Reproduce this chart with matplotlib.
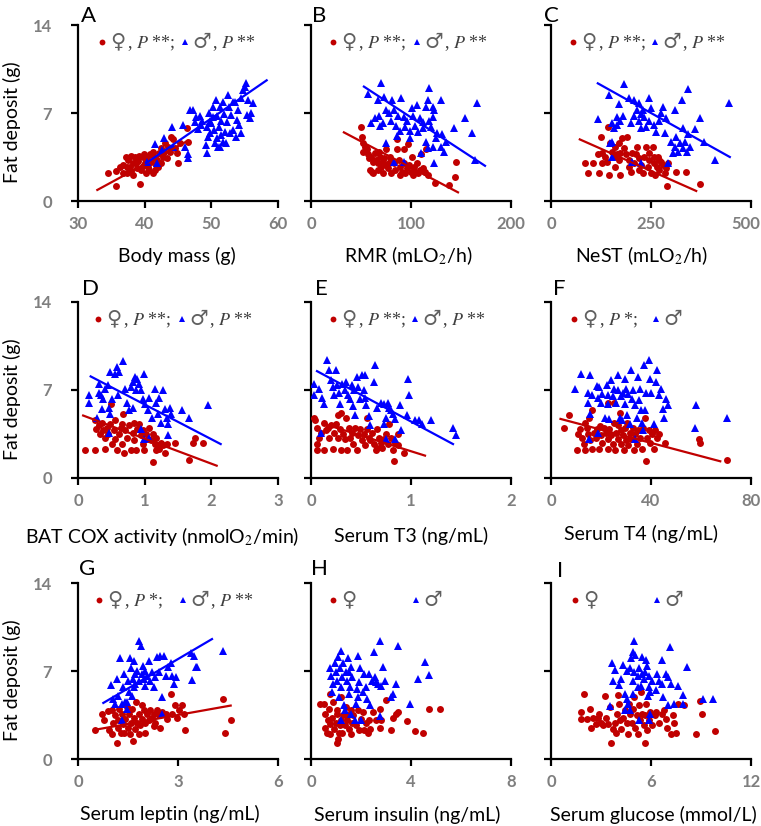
import matplotlib
matplotlib.use("Agg")
import matplotlib.pyplot as plt
from matplotlib.transforms import ScaledTranslation

plt.rcParams['font.family'] = ['Lato', 'DejaVu Sans']
plt.rcParams['mathtext.fontset'] = 'stix'

RED = '#C00000'
BLUE = '#0000FF'
GRAY = '#7F7F7F'

# ---------------- data ----------------
# Panel A: body mass (g) vs fat deposit (g)
a_f_x = [34.5,35.7,35.7,36.3,36.7,37.2,37.3,37.5,38.0,38.2,38.3,38.5,38.8,39.0,39.3,39.5,39.7,39.9,40.0,40.2,40.3,40.5,40.8,41.0,41.3,41.4,41.7,41.9,42.2,42.4,42.7,42.9,43.0,43.3,43.5,43.8,44.0,44.3,44.5,44.8,45.0,45.3,46.3,46.5,36.8,37.8,38.7,39.2,40.7,41.2,42.0,42.5,39.8,37.3,38.0,38.8,41.5]
a_f_y = [2.2,2.4,1.2,2.7,2.9,3.5,2.2,3.3,3.6,2.1,3.0,3.5,2.6,3.2,1.35,2.5,3.5,3.7,3.0,2.2,3.4,2.7,3.7,3.1,2.2,3.5,2.9,3.3,3.8,4.2,3.5,3.9,4.6,3.4,4.3,3.9,5.1,4.9,4.2,3.8,3.0,4.6,5.8,4.7,2.2,2.7,3.05,3.6,2.5,3.9,2.7,3.0,2.8,2.7,2.4,3.3,2.5]
a_m_x = [40.3,41.8,41.6,42.6,42.9,44.1,44.2,45.8,46.0,46.5,46.5,47.3,47.5,47.7,48.3,48.5,48.6,49.2,49.4,49.5,49.7,49.8,50.0,50.2,50.3,50.4,50.5,50.7,50.8,50.9,51.0,51.2,51.3,51.4,51.5,51.7,51.9,52.0,52.2,52.4,52.5,52.7,52.8,53.0,53.3,53.5,53.7,53.9,54.0,54.2,54.4,54.5,54.8,55.0,55.2,55.4,55.5,55.8,56.0,56.3,49.8,49.3,48.0,46.8,51.3,51.8,53.3]
a_m_y = [3.1,3.05,4.5,4.05,5.0,5.9,4.3,6.05,4.3,3.4,3.7,7.2,6.3,6.7,6.8,6.05,6.4,4.45,3.8,5.1,7.0,6.4,6.2,7.5,6.7,5.65,4.6,8.0,6.8,5.0,4.3,5.9,7.5,5.25,6.4,4.7,6.95,5.5,4.6,6.3,8.4,7.5,5.4,6.85,5.65,7.9,5.1,6.45,7.2,6.05,8.2,5.4,8.8,9.1,9.35,6.85,8.0,6.6,7.0,7.8,5.4,5.9,5.7,7.2,4.3,7.9,7.9]
a_f_fit_x, a_f_fit_y = [32.9, 46.5], [0.88, 4.8]
a_m_fit_x, a_m_fit_y = [40.2, 58.3], [3.0, 9.6]

# Panel B: RMR (mlO2/h)
b_f_x = [49.7,50.6,52.3,53.9,55.5,52.3,56.5,57.7,60.3,61.9,63.5,65.2,66.8,69.4,70.0,71.6,73.2,74.8,76.5,78.1,79.0,80.3,82.9,83.5,85.5,87.7,89.4,91.0,92.6,94.2,95.8,97.4,98.4,99.7,100.6,101.6,102.9,103.9,105.5,107.1,108.7,110.3,111.9,113.5,115.2,116.8,61.9,61.0,71.6,79.7,89.4,124.2,137.7,144.2,145.2,86.1,92.6,74.8,68.4,58.7,67.4]
b_f_y = [5.9,5.1,4.6,4.3,4.1,3.9,3.7,3.4,3.5,3.1,3.8,3.3,3.0,3.5,2.7,3.1,3.4,2.9,2.6,3.0,3.5,3.3,3.0,2.5,4.1,3.3,2.7,2.3,3.0,2.2,2.6,4.5,2.9,2.3,3.5,2.1,2.7,2.3,3.0,2.2,2.5,3.7,2.6,2.3,4.1,2.1,2.2,2.3,2.2,2.2,2.1,1.4,1.3,1.9,3.1,4.9,4.1,4.1,3.9,2.5,2.5]
b_m_x = [70.0,57.1,67.4,73.2,81.3,90.0,118.4,116.8,129.7,121.6,123.2,165.8,100.6,106.1,115.2,74.8,78.1,82.9,86.8,92.6,95.8,102.3,108.7,111.9,117.7,121.6,63.5,60.3,68.4,71.6,79.7,84.5,88.7,94.2,99.0,103.9,107.1,111.9,120.0,125.8,131.3,124.8,134.5,129.7,132.9,121.6,116.8,110.3,115.2,142.6,153.9,160.6,163.5,123.2,82.9,92.6,86.1,74.8,69.4,99.0]
b_m_y = [9.4,8.5,8.0,8.3,8.0,8.2,9.0,8.0,8.0,7.5,7.2,7.8,7.4,7.6,7.5,7.2,7.0,7.2,6.8,6.7,6.4,6.8,6.6,6.3,6.4,6.7,6.6,6.2,6.8,6.2,6.4,6.0,5.6,5.9,5.6,6.0,5.5,5.8,5.9,5.4,5.3,5.0,4.7,4.3,3.9,4.3,4.2,3.8,4.7,5.8,6.6,5.4,3.3,3.0,3.1,3.1,5.2,4.6,6.0,5.0]
b_f_fit_x, b_f_fit_y = [32.9, 147.0], [5.46, 0.69]
b_m_fit_x, b_m_fit_y = [52.9, 174.0], [9.1, 2.8]

# Panel C: NeST (mlO2/h)
c_f_x = [84.7,105.9,91.5,120.3,144.1,173.7,118.6,127.1,135.6,139.8,148.3,152.5,156.8,161.0,165.3,169.5,173.7,125.4,142.4,178.0,190.7,182.2,188.1,194.9,203.4,207.6,211.9,216.1,220.3,224.6,228.8,233.1,237.3,241.5,245.8,250.0,254.2,258.5,261.0,264.4,267.0,271.2,275.4,279.7,283.9,288.1,292.4,290.7,313.6,337.3,372.9,199.2,220.3,194.9,161.0,258.5,271.2,245.8,169.5,127.1]
c_f_y = [3.05,3.0,2.2,2.2,2.1,2.1,3.7,3.8,3.5,3.1,4.6,3.9,3.5,4.3,3.7,3.3,3.8,5.1,5.9,5.0,5.1,4.2,3.7,3.3,3.8,3.0,3.7,4.3,3.4,2.9,2.2,3.5,4.3,2.7,3.3,2.2,4.3,3.0,2.1,2.7,3.5,2.5,3.1,2.9,2.2,2.6,3.0,1.2,2.3,2.3,1.35,2.3,2.5,2.7,2.7,3.5,3.3,3.8,4.6,3.0]
c_m_x = [182.2,144.1,118.6,169.5,194.9,207.6,220.3,244.1,228.8,250.0,279.7,275.4,288.1,309.3,326.3,343.2,444.9,372.9,360.2,343.2,381.4,410.2,330.5,313.6,300.8,309.3,322.0,330.5,339.0,317.8,305.1,334.7,347.5,292.4,283.9,258.5,262.7,271.2,245.8,237.3,220.3,207.6,199.2,180.5,172.9,164.4,156.8,152.5,165.3,216.1,233.1,224.6,152.5,148.3,152.5,203.4,224.6,224.6]
c_m_y = [9.3,8.4,6.5,7.7,8.2,8.0,7.8,8.2,7.2,7.4,7.5,7.0,6.6,7.2,8.0,8.9,7.8,6.6,5.7,5.3,4.7,3.3,5.8,5.1,4.7,4.3,4.6,4.2,3.9,3.9,3.8,4.7,4.3,3.0,5.4,6.05,5.5,6.4,6.4,5.9,6.4,6.8,6.2,6.8,6.4,6.05,5.8,6.2,6.7,7.2,6.7,5.8,4.7,4.6,3.5,3.1,3.0,6.9]
c_f_fit_x, c_f_fit_y = [72.0, 363.0], [4.9, 0.8]
c_m_fit_x, c_m_fit_y = [117.0, 447.0], [9.36, 3.5]

# Panel D: BAT COX activity (nmolO2/min)
d_f_x = [0.10,0.26,0.41,0.25,0.27,0.31,0.33,0.36,0.38,0.41,0.43,0.45,0.48,0.50,0.54,0.56,0.59,0.61,0.64,0.66,0.67,0.69,0.71,0.74,0.77,0.79,0.82,0.84,0.87,0.89,0.92,0.94,0.97,0.99,1.02,1.05,1.07,1.10,1.12,1.15,1.13,1.17,1.20,1.22,1.25,1.28,1.30,1.33,1.45,1.66,1.73,1.75,1.88,0.56,0.66,0.84,0.51,1.17,0.97]
d_f_y = [2.26,2.26,2.3,4.6,3.9,4.2,3.5,4.4,3.8,3.2,4.0,3.5,4.3,5.9,3.8,3.1,2.2,3.5,4.0,2.7,5.1,2.0,3.8,3.2,4.2,2.2,3.6,3.0,2.2,3.9,4.3,3.4,2.7,2.2,3.5,3.1,4.0,3.0,3.5,2.7,1.25,3.2,2.6,2.3,2.8,2.6,2.0,2.7,2.8,1.4,2.8,3.2,2.8,4.6,4.3,4.4,2.7,2.2,3.8]
d_m_x = [0.16,0.16,0.28,0.31,0.32,0.35,0.38,0.41,0.45,0.48,0.51,0.48,0.47,0.56,0.59,0.61,0.60,0.67,0.71,0.74,0.77,0.79,0.83,0.86,0.89,0.92,0.94,0.97,0.99,1.01,1.05,1.07,1.11,1.15,1.17,1.20,1.22,1.25,1.28,1.30,1.33,1.35,1.38,1.40,1.56,1.66,1.95,0.94,0.99,1.07,1.35,0.46,0.36,0.82,0.87]
d_m_y = [6.6,6.0,4.8,6.8,7.5,6.6,6.3,7.1,7.4,8.4,6.3,5.1,3.6,8.3,8.8,8.4,6.6,9.3,7.1,6.0,5.4,7.2,7.6,8.0,7.9,7.5,7.0,6.3,8.3,5.9,5.4,6.4,4.8,7.1,6.0,5.1,6.4,4.4,7.0,5.5,4.8,4.3,5.6,5.1,5.4,4.8,5.8,3.9,3.1,3.2,3.4,5.6,5.5,5.6,7.0]
d_f_fit_x, d_f_fit_y = [0.077, 2.08], [4.97, 0.98]
d_m_fit_x, d_m_fit_y = [0.19, 2.14], [8.08, 2.7]

# Panel E: serum T3 (ng/mL)
e_f_x = [0.03,0.04,0.06,0.06,0.06,0.08,0.10,0.13,0.15,0.17,0.18,0.20,0.22,0.23,0.25,0.27,0.29,0.30,0.30,0.32,0.34,0.35,0.36,0.38,0.39,0.41,0.42,0.44,0.46,0.47,0.49,0.51,0.53,0.54,0.56,0.58,0.59,0.61,0.63,0.65,0.66,0.68,0.70,0.71,0.73,0.75,0.77,0.78,0.80,0.82,0.84,0.83,0.87,0.93,0.13,0.56,0.66,0.27,0.87]
e_f_y = [4.8,4.6,4.0,2.7,2.2,3.2,3.6,4.4,3.8,4.0,3.2,4.2,2.3,3.6,4.3,3.2,3.9,2.2,5.2,3.5,3.1,4.8,2.2,4.0,3.2,3.6,2.7,4.0,2.2,3.4,3.9,3.0,3.5,2.6,3.9,3.2,3.0,3.6,2.7,2.2,3.9,3.2,2.8,2.4,3.1,3.5,2.7,4.3,3.2,2.2,2.8,1.33,3.5,2.0,2.2,4.8,2.4,5.0,2.6]
e_m_x = [0.03,0.03,0.08,0.10,0.11,0.13,0.16,0.18,0.20,0.22,0.23,0.25,0.26,0.28,0.29,0.31,0.34,0.35,0.37,0.39,0.41,0.42,0.43,0.44,0.46,0.47,0.49,0.51,0.53,0.54,0.55,0.58,0.59,0.64,0.66,0.70,0.73,0.75,0.77,0.78,0.80,0.82,0.84,0.73,0.75,0.84,0.90,0.89,0.96,0.97,0.98,1.04,1.08,1.11,1.20,1.42,1.45,0.63,0.54]
e_m_y = [7.5,6.6,7.1,3.6,6.4,5.9,9.4,8.6,7.8,7.2,6.6,8.6,7.4,6.8,5.9,7.5,7.0,7.6,6.6,6.3,7.4,5.7,7.0,5.0,8.0,7.2,6.3,8.2,7.0,8.2,5.8,4.9,4.2,9.0,5.6,6.0,5.9,4.8,6.0,5.6,5.4,5.1,4.7,4.3,3.1,3.1,3.8,5.8,5.0,7.9,6.6,4.6,4.6,4.3,4.6,4.0,3.4,7.6,6.4]
e_f_fit_x, e_f_fit_y = [0.13, 1.14], [4.3, 1.78]
e_m_fit_x, e_m_fit_y = [0.06, 1.42], [8.5, 2.7]

# Panel F: serum T4 (ng/mL)
f_f_x = [5.2,7.3,10.9,11.6,12.4,13.0,13.7,13.7,14.4,14.6,15.0,15.7,16.4,16.4,17.1,17.8,18.5,19.2,19.6,19.8,20.5,21.2,21.9,22.6,22.8,23.3,23.9,24.6,25.0,25.3,25.6,26.0,26.7,26.9,27.4,27.8,28.0,28.7,29.1,29.4,30.1,30.5,30.8,31.5,32.1,32.8,33.2,33.5,34.2,34.9,35.6,36.3,36.9,37.6,37.9,38.3,39.0,39.7,40.4,41.0,41.7,42.4,43.1,45.6,59.2,59.5,70.2,10.3,22.6]
f_f_y = [4.0,5.0,3.5,3.9,3.2,2.7,4.4,2.2,4.0,3.5,4.8,3.0,5.4,2.3,3.6,3.2,3.9,2.3,4.1,3.4,2.8,4.0,3.6,3.1,2.3,3.9,3.4,2.7,4.4,6.0,2.2,3.6,3.1,4.2,5.2,2.7,3.8,3.4,2.2,4.0,3.0,4.4,2.6,3.6,3.1,4.0,2.2,3.5,2.7,3.8,3.2,2.3,4.0,4.8,1.33,3.2,3.8,2.8,3.5,2.3,3.8,3.2,3.5,2.8,3.1,2.8,1.46,2.2,6.0]
f_m_x = [9.6,11.9,15.7,14.8,15.5,15.0,14.6,16.4,18.2,18.9,18.9,19.2,19.8,20.5,21.5,22.3,22.6,22.8,23.3,24.0,24.6,25.3,26.0,26.7,26.9,27.4,27.8,28.3,28.7,29.4,29.7,30.1,30.5,30.8,31.5,32.1,32.4,32.8,33.5,34.2,34.9,35.2,35.6,36.0,36.3,36.9,37.3,37.6,38.0,39.0,39.7,39.9,41.0,42.0,42.4,43.1,43.8,44.7,45.2,45.8,46.9,57.9,57.5,70.2,33.5]
f_m_y = [7.1,8.3,8.2,6.0,5.1,3.1,6.8,6.6,7.3,6.4,3.6,7.2,6.0,6.7,4.8,7.4,6.6,5.9,4.7,7.8,6.5,7.1,6.0,8.2,7.0,4.8,6.5,4.6,6.8,7.9,5.9,7.1,5.0,6.7,4.3,8.6,6.3,7.0,5.8,4.8,8.0,6.2,7.1,5.4,4.4,3.8,9.0,5.4,6.8,9.4,7.9,6.8,4.3,7.6,8.6,6.6,7.1,5.5,4.8,6.3,5.8,5.8,4.0,4.8,3.1]
f_f_fit_x, f_f_fit_y = [3.8, 67.7], [4.7, 1.33]

# Panel G: serum leptin (ng/mL)
g_f_x = [0.51,0.79,0.91,0.93,1.01,1.06,1.11,1.16,1.19,1.21,1.23,1.29,1.31,1.36,1.39,1.41,1.46,1.49,1.52,1.57,1.60,1.62,1.64,1.67,1.72,1.74,1.77,1.82,1.84,1.87,1.92,1.97,2.00,2.02,2.07,2.12,2.17,2.22,2.27,2.32,2.37,2.42,2.47,2.53,2.63,2.68,2.78,2.83,2.91,2.98,3.03,3.11,3.18,3.21,4.34,4.42,4.58,0.71,1.92,2.27,1.01]
g_f_y = [2.3,3.1,3.8,2.3,2.0,2.9,3.5,1.3,2.5,3.1,4.0,2.1,3.6,2.8,2.1,3.2,4.1,2.5,3.6,2.0,2.9,4.0,1.4,3.3,2.4,4.5,2.9,3.6,2.0,2.7,3.2,3.9,2.1,2.9,3.6,3.1,3.9,3.3,3.6,2.9,3.9,3.5,2.5,3.7,3.6,3.2,5.2,3.6,4.3,3.3,3.9,4.3,3.6,2.3,4.8,2.1,3.1,3.6,4.3,2.6,3.9]
g_m_x = [0.99,1.06,1.11,1.16,1.21,1.26,1.31,1.33,1.36,1.39,1.41,1.46,1.49,1.52,1.56,1.60,1.62,1.64,1.67,1.70,1.72,1.77,1.82,1.84,1.90,1.92,1.94,1.97,2.00,2.02,2.07,2.12,2.17,2.22,2.27,2.32,2.37,2.42,2.47,2.51,2.53,2.58,2.63,2.71,2.78,2.83,2.88,2.93,3.38,3.48,3.54,3.43,3.58,4.34,1.46,1.67]
g_m_y = [5.9,4.8,4.4,6.4,5.0,8.0,4.4,3.1,5.7,6.8,4.5,4.0,6.2,5.3,8.0,7.2,5.0,6.4,5.7,6.8,6.0,7.0,9.4,6.2,9.0,6.8,7.4,6.4,7.0,5.8,6.6,7.8,6.2,6.9,5.7,6.5,8.1,6.9,8.2,4.9,3.6,8.2,6.6,7.3,7.6,6.6,6.0,6.5,8.4,8.2,7.3,6.3,7.3,8.6,4.5,7.8]
g_f_fit_x, g_f_fit_y = [0.48, 4.58], [2.31, 4.25]
g_m_fit_x, g_m_fit_y = [0.76, 4.02], [4.46, 9.54]

# Panel H: serum insulin (ng/mL)
h_f_x = [0.37,0.50,0.57,0.57,0.64,0.66,0.71,0.75,0.77,0.84,0.88,0.91,0.98,1.02,1.04,1.07,1.11,1.15,1.18,1.21,1.25,1.29,1.34,1.38,1.42,1.48,1.52,1.59,1.65,1.69,1.79,1.86,1.93,1.99,2.06,2.13,2.20,2.26,2.33,2.37,2.47,2.60,2.74,2.78,2.74,3.01,3.19,3.28,3.38,3.48,3.82,4.14,4.46,4.71,5.14,0.77,1.59,1.02]
h_f_y = [4.4,4.4,3.6,2.5,2.1,3.1,4.0,5.2,2.8,3.3,4.5,2.4,2.9,1.3,3.6,1.6,2.1,2.7,4.9,3.1,2.1,3.5,2.7,4.1,3.1,3.5,2.4,3.9,2.9,3.5,2.7,3.9,2.3,3.2,3.7,2.3,2.9,2.1,3.1,2.4,3.7,3.1,4.0,3.1,2.5,4.7,2.3,3.3,3.6,3.7,3.0,2.2,2.1,4.0,4.0,2.0,2.0,3.9]
h_m_x = [0.77,0.81,0.84,0.88,0.94,0.98,1.04,1.07,1.11,1.15,1.18,1.21,1.25,1.29,1.32,1.34,1.38,1.42,1.48,1.52,1.56,1.59,1.61,1.65,1.75,1.79,1.83,1.86,1.88,1.93,1.96,1.99,2.06,2.13,2.20,2.24,2.33,2.37,2.43,2.51,2.54,2.60,2.67,2.74,2.81,2.87,2.94,2.74,3.19,3.28,3.38,3.48,3.96,4.26,4.57,4.71,1.18,1.52]
h_m_y = [7.2,6.6,5.3,6.0,7.6,6.9,6.2,8.1,4.9,7.2,5.7,8.6,6.5,7.6,4.3,3.9,6.9,6.2,8.0,6.9,5.7,3.6,7.3,6.5,3.1,4.4,5.6,8.2,4.9,6.1,7.2,3.1,5.3,6.8,5.7,4.8,6.8,4.3,6.2,8.5,6.5,6.1,6.0,9.4,5.8,7.3,6.2,3.4,4.9,5.2,6.0,9.0,4.4,6.4,7.7,6.7,3.1,5.2]

# Panel I: serum glucose (mmol/L)
i_f_x = [1.78,1.78,1.98,2.14,2.35,2.39,2.49,2.69,2.80,2.90,3.00,3.10,3.24,3.31,3.41,3.51,3.61,3.71,3.82,3.92,3.98,4.02,4.06,4.12,4.22,4.33,4.43,4.53,4.63,4.67,4.73,4.84,4.94,5.00,5.04,5.14,5.24,5.29,5.35,5.45,5.55,5.61,5.65,5.69,5.76,5.86,5.96,6.06,6.22,6.31,6.47,6.63,6.78,6.88,6.98,7.18,7.29,7.39,7.49,7.59,8.00,8.67,8.92,9.08,9.84,5.41]
i_f_y = [3.7,3.2,5.2,3.2,4.0,2.5,3.3,2.8,3.3,3.6,2.9,2.7,5.0,3.3,2.8,4.1,1.25,2.4,2.9,2.1,3.6,5.1,4.4,3.1,2.4,3.3,3.9,2.9,2.0,4.4,3.6,2.9,4.0,4.9,2.5,3.5,2.0,4.3,3.1,3.6,2.7,3.5,1.3,4.4,2.3,3.1,3.7,2.7,3.5,3.7,2.9,3.6,3.9,3.2,2.5,2.0,3.5,2.9,2.1,4.4,4.3,2.0,4.6,3.6,2.2,5.3]
i_m_x = [5.00,4.94,4.80,5.04,5.45,5.69,7.14,6.63,8.16,3.67,3.82,4.33,4.53,4.73,5.00,5.20,5.29,5.45,5.55,5.65,5.76,5.90,6.06,6.37,6.47,6.63,6.88,7.04,7.18,7.59,4.22,4.06,3.71,4.94,5.20,5.41,5.86,5.96,6.27,5.80,6.69,7.04,7.39,7.90,7.94,9.12,9.73,4.43,4.53,4.63,4.73,3.55,4.43,5.29,5.96,5.86,4.94]
i_m_y = [9.4,8.5,8.0,8.3,8.1,7.9,8.9,7.9,7.3,7.6,7.1,7.5,7.0,7.2,6.9,6.6,7.2,6.8,6.4,6.9,7.4,6.6,6.2,6.8,6.2,6.0,6.8,6.5,6.0,5.8,6.4,5.9,6.2,6.2,5.7,5.8,5.7,5.3,5.5,5.0,4.9,4.3,4.4,5.1,4.4,4.8,4.8,5.2,4.8,4.4,3.9,4.2,3.9,3.1,3.6,3.1,5.2]

panel_letters = ['A', 'B', 'C', 'D', 'E', 'F', 'G', 'H', 'I']
x_labels = ['Body mass (g)', 'RMR (mLO$_2$/h)', 'NeST (mLO$_2$/h)',
            'BAT COX activity (nmolO$_2$/min)', 'Serum T3 (ng/mL)', 'Serum T4 (ng/mL)',
            'Serum leptin (ng/mL)', 'Serum insulin (ng/mL)', 'Serum glucose (mmol/L)']
x_ticks = [[30, 40, 50, 60], [0, 100, 200], [0, 250, 500],
           [0, 1, 2, 3], [0, 1, 2], [0, 40, 80],
           [0, 3, 6], [0, 4, 8], [0, 6, 12]]
y_ticks = [0, 7, 14]
y_label = 'Fat deposit (g)'
female_sig = [', $P$ **;', ', $P$ **;', ', $P$ **;', ', $P$ **;', ', $P$ **;', ', $P$ *;', ', $P$ *;', '', '']
male_sig = [', $P$ **', ', $P$ **', ', $P$ **', ', $P$ **', ', $P$ **', '', ', $P$ **', '', '']

female_pts = [(a_f_x, a_f_y), (b_f_x, b_f_y), (c_f_x, c_f_y), (d_f_x, d_f_y), (e_f_x, e_f_y),
              (f_f_x, f_f_y), (g_f_x, g_f_y), (h_f_x, h_f_y), (i_f_x, i_f_y)]
male_pts = [(a_m_x, a_m_y), (b_m_x, b_m_y), (c_m_x, c_m_y), (d_m_x, d_m_y), (e_m_x, e_m_y),
            (f_m_x, f_m_y), (g_m_x, g_m_y), (h_m_x, h_m_y), (i_m_x, i_m_y)]
female_fit = [(a_f_fit_x, a_f_fit_y), (b_f_fit_x, b_f_fit_y), (c_f_fit_x, c_f_fit_y),
              (d_f_fit_x, d_f_fit_y), (e_f_fit_x, e_f_fit_y), (f_f_fit_x, f_f_fit_y),
              (g_f_fit_x, g_f_fit_y), None, None]
male_fit = [(a_m_fit_x, a_m_fit_y), (b_m_fit_x, b_m_fit_y), (c_m_fit_x, c_m_fit_y),
            (d_m_fit_x, d_m_fit_y), (e_m_fit_x, e_m_fit_y), None,
            (g_m_fit_x, g_m_fit_y), None, None]

# ---------------- layout ----------------
W, H = 761, 826
fig = plt.figure(figsize=(W / 100, H / 100), dpi=100)
lefts = [78, 311, 551]
tops = [25, 302, 583]
aw, ah = 200, 176
leg_cx = [0.12, 0.11, 0.11, 0.10, 0.11, 0.115, 0.105, 0.11, 0.12]
leg_tx = [0.535, 0.53, 0.52, 0.52, 0.52, 0.525, 0.525, 0.525, 0.53]
letter_x = [0.015, 0.005, -0.035, 0.02, 0.02, 0.01, 0.005, 0.0, 0.03]
letter_y = [1.017, 1.017, 1.017, 1.04, 1.04, 1.04, 1.045, 1.045, 1.035]
xlab_x = [0.495, 0.487, 0.455, 0.42, 0.5, 0.45, 0.46, 0.48, 0.51]
xlab_off = [55, 55, 55, 59, 58, 56, 55, 56, 56]
serif = ['Liberation Serif', 'DejaVu Sans']
sym_font = ['DejaVu Sans']

for k in range(9):
    r, c = divmod(k, 3)
    ax = fig.add_axes([lefts[c] / W, (H - tops[r] - ah) / H, aw / W, ah / H])
    fx, fy = female_pts[k]
    mx, my = male_pts[k]
    ax.plot(fx, fy, 'o', color=RED, ms=5.0, mew=0, zorder=3)
    ax.plot(mx, my, '^', color=BLUE, ms=5.6, mew=0, zorder=4)
    if female_fit[k] is not None:
        ax.plot(female_fit[k][0], female_fit[k][1], '-', color=RED, lw=1.6, zorder=5)
    if male_fit[k] is not None:
        ax.plot(male_fit[k][0], male_fit[k][1], '-', color=BLUE, lw=1.6, zorder=6)

    xt = x_ticks[k]
    ax.set_xlim(xt[0], xt[-1])
    ax.set_ylim(0, 14)
    ax.set_xticks(xt)
    ax.set_yticks(y_ticks)
    for s in ['top', 'right']:
        ax.spines[s].set_visible(False)
    for s in ['left', 'bottom']:
        ax.spines[s].set_linewidth(1.6)
        ax.spines[s].set_color('black')
    ax.tick_params(direction='out', length=5, width=1.6, colors='black',
                   labelcolor=GRAY, labelsize=12)
    ax.tick_params(axis='x', pad=5.5)
    ax.tick_params(axis='y', pad=13.5)
    for lab in ax.get_xticklabels() + ax.get_yticklabels():
        lab.set_fontweight('bold')
    if k == 2:
        lab = ax.get_xticklabels()[-1]
        lab.set_transform(lab.get_transform() + ScaledTranslation(-5 / 100, 0, fig.dpi_scale_trans))
    if c != 0:
        ax.set_yticklabels([])
    else:
        ax.set_ylabel(y_label, fontsize=14)
        ax.yaxis.label.set_va('center')
        ax.yaxis.set_label_coords(-66 / aw, 0.45)
    ax.set_xlabel(x_labels[k], fontsize=14)
    ax.xaxis.label.set_va('center')
    ax.xaxis.set_label_coords(xlab_x[k], -xlab_off[k] / ah)

    ax.text(letter_x[k], letter_y[k], panel_letters[k], transform=ax.transAxes,
            fontsize=16, ha='left', va='baseline', color='black')

    ly = 0.905
    ax.plot([leg_cx[k]], [ly], 'o', color=RED, ms=4.2, mew=0, transform=ax.transAxes, clip_on=False)
    t1 = ax.text(leg_cx[k] + 0.04, ly, '♀', transform=ax.transAxes, fontsize=15,
                 family=sym_font, color='#606060', ha='left', va='center')
    if female_sig[k]:
        ax.annotate(female_sig[k], xy=(1, 0.42), xycoords=t1, xytext=(1, 0),
                    textcoords='offset points', fontsize=13, family=serif,
                    color='#404040', ha='left', va='center')
    ax.plot([leg_tx[k]], [ly], '^', color=BLUE, ms=5.0, mew=0, transform=ax.transAxes, clip_on=False)
    t2 = ax.text(leg_tx[k] + 0.035, ly, '♂', transform=ax.transAxes, fontsize=15,
                 family=sym_font, color='#606060', ha='left', va='center')
    if male_sig[k]:
        ax.annotate(male_sig[k], xy=(1, 0.42), xycoords=t2, xytext=(1, 0),
                    textcoords='offset points', fontsize=13, family=serif,
                    color='#404040', ha='left', va='center')

fig.savefig('out.png', dpi=100)
